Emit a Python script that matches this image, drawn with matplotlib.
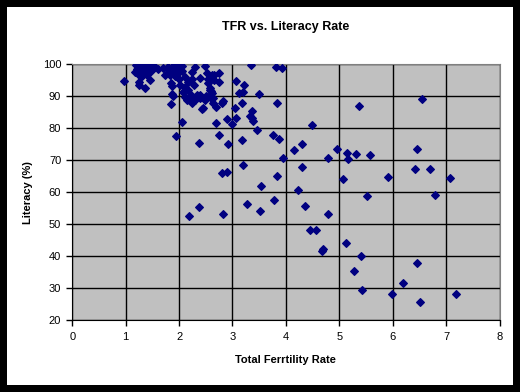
import matplotlib.pyplot as plt

# Total fertility rate (x) and literacy % (y)
tfr = [
    0.97, 1.24, 1.25, 1.36, 1.45,
    1.20, 1.25, 1.30, 1.35, 1.40, 1.45, 1.50, 1.22, 1.28, 1.33, 1.38, 1.42, 1.48, 1.52, 1.25,
    1.30, 1.40, 1.55, 1.18, 1.35,
    1.61, 1.70, 1.77, 1.80, 1.89, 1.96, 1.96, 2.05, 1.74, 1.83, 1.92, 1.98, 1.83, 1.90, 1.85,
    1.86, 1.87, 1.88, 1.84,
    2.05, 2.11, 2.17, 2.24, 2.30, 2.17, 2.22, 2.17, 2.11, 2.24, 2.33, 2.14, 2.24, 2.20, 2.30,
    2.08, 2.02, 2.12, 2.28, 2.25, 2.00,
    2.39, 2.50, 2.39, 2.52, 2.55, 2.58, 2.44, 2.48, 2.62, 2.55, 2.57, 2.60, 2.66, 2.65, 2.75,
    2.75, 2.64, 2.70, 2.81, 2.61, 2.59, 2.64, 2.48, 2.39, 2.43, 2.83, 3.05, 3.18,
    2.05, 1.94, 2.37, 2.75, 2.69, 2.90, 3.00, 3.07, 2.92,
    3.35, 3.81, 3.93, 3.07, 3.22, 3.13, 3.19, 3.50, 3.84, 3.36, 3.33, 3.36, 3.38, 3.45, 3.75,
    3.88, 3.18, 4.31, 4.16, 3.95,
    5.36, 6.54, 4.49, 4.31, 4.96, 4.78, 5.15, 5.17, 5.32, 5.58, 5.06, 5.91, 6.46, 6.42, 6.70,
    7.07, 5.51, 6.79,
    4.36, 4.79, 4.46, 4.57, 4.68, 4.70, 5.12, 5.41, 5.28, 5.43, 6.46, 6.20, 5.99, 6.52, 7.19,
    2.19, 2.38, 2.81, 2.89, 2.83, 3.20, 3.28, 3.54, 3.52, 3.83, 3.78, 4.23,
]
literacy = [
    94.8, 94.6, 93.5, 92.5, 95.1,
    99.8, 99.5, 99.8, 99.0, 99.6, 99.3, 99.8, 98.5, 97.8, 98.2, 97.5, 98.5, 97.8, 98.8, 96.8,
    96.2, 96.5, 99.0, 97.5, 99.8,
    98.5, 98.9, 98.8, 99.3, 99.4, 98.3, 99.6, 99.5, 96.8, 96.8, 96.3, 97.3, 97.5, 97.4, 94.1,
    93.3, 90.8, 90.0, 87.7,
    97.9, 96.1, 94.6, 97.7, 99.3, 92.0, 90.4, 89.4, 89.9, 88.8, 90.4, 88.9, 87.9, 90.0, 88.9,
    91.5, 93.5, 93.0, 93.5, 95.5, 95.5,
    90.4, 90.0, 95.6, 97.2, 94.1, 91.9, 86.2, 99.5, 96.7, 95.4, 92.5, 91.8, 96.7, 95.1, 97.2,
    94.4, 87.8, 86.8, 87.8, 91.0, 89.5, 89.5, 88.8, 89.5, 86.1, 88.4, 86.2, 87.9,
    82.1, 77.7, 75.3, 77.8, 81.8, 82.8, 81.3, 83.1, 75.0,
    99.8, 99.2, 98.8, 94.8, 93.5, 91.1, 91.3, 90.7, 87.8, 85.3, 83.8, 83.2, 82.4, 79.5, 78.0,
    76.6, 76.3, 75.0, 73.2, 70.6,
    87.0, 89.1, 81.0, 67.8, 73.5, 70.6, 72.2, 70.5, 71.9, 71.6, 64.1, 64.7, 73.4, 67.3, 67.2,
    64.4, 59.0, 59.3,
    55.6, 53.1, 48.4, 48.4, 41.7, 42.2, 44.1, 40.2, 35.6, 29.4, 37.8, 31.6, 28.4, 25.9, 28.4,
    52.5, 55.3, 65.9, 66.3, 53.4, 68.4, 56.3, 62.0, 54.1, 65.0, 57.5, 60.6,
]

x_ticks = [0, 1, 2, 3, 4, 5, 6, 7, 8]
y_ticks = [20, 30, 40, 50, 60, 70, 80, 90, 100]

plt.rcParams['font.family'] = ['Liberation Sans', 'DejaVu Sans']

fig = plt.figure(figsize=(5.2, 3.92), dpi=100)
fig.patch.set_facecolor('white')
fig.patch.set_edgecolor('black')
fig.patch.set_linewidth(10)

ax = fig.add_axes([0.139, 0.1824, 0.8216, 0.6536])
ax.set_facecolor('#C0C0C0')

ax.scatter(tfr, literacy, marker='D', s=15, color='#000080', zorder=3)

ax.set_xlim(0, 8)
ax.set_ylim(20, 100)
ax.set_xticks(x_ticks)
ax.set_yticks(y_ticks)
ax.tick_params(direction='out', length=4, width=1, color='black', labelsize=8, pad=4)
ax.grid(True, color='black', linewidth=1)
ax.set_axisbelow(True)

ax.spines['left'].set_color('black')
ax.spines['bottom'].set_color('black')
ax.spines['top'].set_color('#808080')
ax.spines['right'].set_color('#808080')

ax.set_title('TFR vs. Literacy Rate', fontsize=9, fontweight='bold', pad=25)
ax.set_xlabel('Total Ferrtility Rate', fontsize=8, fontweight='bold', labelpad=10)
ax.set_ylabel('Literacy (%)', fontsize=8, fontweight='bold', labelpad=7)

fig.savefig('out.png', dpi=100)
